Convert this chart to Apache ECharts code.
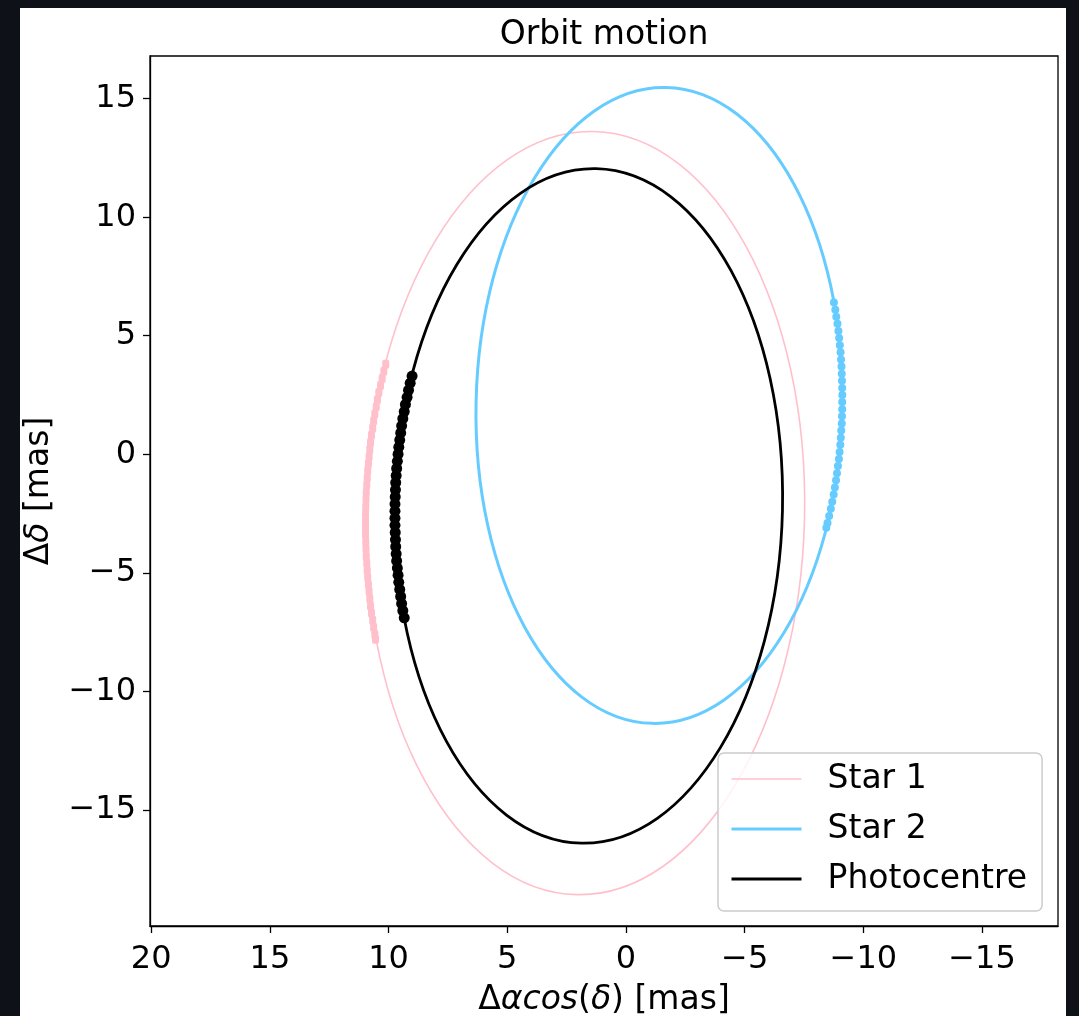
<!DOCTYPE html>
<html>
<head>
<meta charset="utf-8">
<script src="https://cdn.jsdelivr.net/npm/echarts@6/dist/echarts.min.js"></script>
<style>
  html, body { margin: 0; padding: 0; background: #0e1117; width: 1079px; height: 1016px; overflow: hidden; }
  #chart { position: absolute; left: 20px; top: 8px; width: 1046px; height: 1008px; background: #ffffff; }
</style>
</head>
<body>
<div id="chart"></div>
<script>
// ---- Data (mas) ----
const seriesNames = ['Star 1', 'Star 2', 'Photocentre'];
// orbit ellipses: centre, semi-axes and tilt
const orbitCentreX = [1.72, -1.40, 1.57];
const orbitCentreY = [-2.48, 2.06, -2.18];
const orbitSemiX   = [9.245, 7.715, 8.165];
const orbitSemiY   = [16.1, 13.415, 14.23];
const orbitTiltDeg = [1.25, 1.25, 1.25];

// observed epochs along each orbit [Δαcos(δ), Δδ]
const star1Obs = [[10.12,3.8],[10.20,3.5],[10.27,3.2],[10.34,2.9],[10.41,2.6],[10.47,2.3],[10.52,2.0],[10.58,1.7],[10.63,1.4],[10.67,1.1],[10.72,0.8],[10.76,0.5],[10.79,0.2],[10.82,-0.1],[10.85,-0.4],[10.88,-0.7],[10.90,-1.0],[10.92,-1.3],[10.94,-1.6],[10.95,-1.9],[10.96,-2.2],[10.97,-2.5],[10.97,-2.8],[10.97,-3.1],[10.97,-3.4],[10.96,-3.7],[10.95,-4.0],[10.94,-4.3],[10.92,-4.6],[10.90,-4.9],[10.88,-5.2],[10.85,-5.5],[10.82,-5.8],[10.79,-6.1],[10.76,-6.4],[10.72,-6.7],[10.67,-7.0],[10.63,-7.3],[10.58,-7.6],[10.55,-7.8]];
const star2Obs = [[-8.76,6.4],[-8.82,6.1],[-8.86,5.8],[-8.91,5.5],[-8.95,5.2],[-8.98,4.9],[-9.01,4.6],[-9.04,4.3],[-9.06,4.0],[-9.08,3.7],[-9.09,3.4],[-9.10,3.1],[-9.11,2.8],[-9.115,2.5],[-9.11,2.2],[-9.11,1.9],[-9.10,1.6],[-9.09,1.3],[-9.07,1.0],[-9.05,0.7],[-9.03,0.4],[-9.00,0.1],[-8.97,-0.2],[-8.93,-0.5],[-8.89,-0.8],[-8.85,-1.1],[-8.80,-1.4],[-8.75,-1.7],[-8.69,-2.0],[-8.63,-2.3],[-8.56,-2.6],[-8.49,-2.9],[-8.44,-3.1]];
const photoObs = [[9.01,3.3],[9.09,3.0],[9.16,2.7],[9.22,2.4],[9.29,2.1],[9.34,1.8],[9.40,1.5],[9.45,1.2],[9.49,0.9],[9.53,0.6],[9.57,0.3],[9.60,0.0],[9.63,-0.3],[9.66,-0.6],[9.68,-0.9],[9.70,-1.2],[9.71,-1.5],[9.72,-1.8],[9.73,-2.1],[9.73,-2.4],[9.73,-2.7],[9.73,-3.0],[9.72,-3.3],[9.71,-3.6],[9.70,-3.9],[9.68,-4.2],[9.66,-4.5],[9.63,-4.8],[9.60,-5.1],[9.57,-5.4],[9.53,-5.7],[9.49,-6.0],[9.45,-6.3],[9.40,-6.6],[9.34,-6.9]];

const xTicks = [20, 15, 10, 5, 0, -5, -10, -15];
const yTicks = [-15, -10, -5, 0, 5, 10, 15];

const colors = ['#ffc0cb', '#66ccff', '#000000'];
const lineWidths = [1.6, 3, 2.8];
const obsSizes = [[7, 9], 8, 11];
const obsSymbols = ['roundRect', 'circle', 'circle'];
const obsData = [star1Obs, star2Obs, photoObs];

const FONT = 'DejaVu Sans';
const minus = v => String(v).replace('-', '\u2212');

const chart = echarts.init(document.getElementById('chart'), null, { renderer: 'canvas' });
const rich = {
  n: { fontFamily: FONT, fontSize: 33, color: '#000' },
  i: { fontFamily: FONT, fontSize: 33, fontStyle: 'italic', color: '#000' }
};

const series = [];
seriesNames.forEach((name, k) => {
  // legend carrier (line icon)
  series.push({ name: name, type: 'line', data: [], symbol: 'none', lineStyle: { color: colors[k], width: lineWidths[k] }, itemStyle: { color: colors[k] } });
  // orbit ellipse drawn through the axes' scales
  series.push({
    name: name + ' orbit', type: 'custom', coordinateSystem: 'cartesian2d', z: 2 + k, silent: true,
    data: [[orbitCentreX[k], orbitCentreY[k], orbitSemiX[k], orbitSemiY[k], orbitTiltDeg[k]]],
    encode: { x: 0, y: 1 },
    renderItem: function (params, api) {
      const c = api.coord([api.value(0), api.value(1)]);
      const s = api.size([2 * api.value(2), 2 * api.value(3)], [api.value(0), api.value(1)]);
      return {
        type: 'ellipse',
        shape: { cx: c[0], cy: c[1], rx: s[0] / 2, ry: s[1] / 2 },
        originX: c[0], originY: c[1],
        rotation: -api.value(4) * Math.PI / 180,
        style: { fill: null, stroke: colors[k], lineWidth: lineWidths[k] }
      };
    }
  });
  series.push({ name: name + ' obs', type: 'scatter', data: obsData[k], symbol: obsSymbols[k], symbolSize: obsSizes[k], itemStyle: { color: colors[k], opacity: 1 }, z: 2 + k, silent: true });
});

chart.setOption({
  animation: false,
  backgroundColor: '#ffffff',
  title: {
    text: 'Orbit motion',
    left: 579, top: 6, textAlign: 'center',
    textStyle: { fontFamily: FONT, fontSize: 33, fontWeight: 'normal', color: '#000' }
  },
  grid: { left: 130, right: 8, top: 48, bottom: 90, outerBoundsMode: 'none', containLabel: false, show: true, borderColor: '#000', borderWidth: 1.3, backgroundColor: 'transparent' },
  legend: {
    data: seriesNames.map((n, k) => ({ name: n, lineStyle: { color: colors[k], width: lineWidths[k] } })),
    orient: 'vertical',
    left: 698, top: 745,
    itemWidth: 70, itemHeight: 14, itemGap: 14,
    padding: [8, 15, 14, 12],
    backgroundColor: 'rgba(255,255,255,0.8)',
    borderColor: '#cccccc', borderWidth: 1.5, borderRadius: 6,
    itemStyle: { color: 'rgba(0,0,0,0)', borderWidth: 0, opacity: 0 },
    textStyle: { fontFamily: FONT, fontSize: 33, color: '#000', lineHeight: 36, padding: [0, 0, 0, 21] }
  },
  xAxis: {
    type: 'value', inverse: true, min: -18.2, max: 20.05,
    splitLine: { show: false },
    axisLine: { show: true, onZero: false, lineStyle: { color: '#000', width: 1.3 } },
    axisTick: { show: true, inside: false, length: 7, customValues: xTicks, lineStyle: { color: '#000', width: 1.3 } },
    axisLabel: { customValues: xTicks, margin: 18, fontFamily: FONT, fontSize: 32, color: '#000', formatter: minus },
    name: '{n|\u0394}{i|\u03b1cos}{n|(}{i|\u03b4}{n|) [mas]}',
    nameLocation: 'middle', nameGap: 58,
    nameTextStyle: { rich: rich }
  },
  yAxis: {
    type: 'value', min: -19.9, max: 16.8,
    splitLine: { show: false },
    axisLine: { show: true, onZero: false, lineStyle: { color: '#000', width: 1.3 } },
    axisTick: { show: true, inside: false, length: 7, customValues: yTicks, lineStyle: { color: '#000', width: 1.3 } },
    axisLabel: { customValues: yTicks, margin: 14, fontFamily: FONT, fontSize: 32, color: '#000', formatter: minus },
    name: '{n|\u0394}{i|\u03b4}{n| [mas]}',
    nameLocation: 'middle', nameGap: 94, nameRotate: 90,
    nameTextStyle: { rich: rich }
  },
  series: series
});
</script>
</body>
</html>
